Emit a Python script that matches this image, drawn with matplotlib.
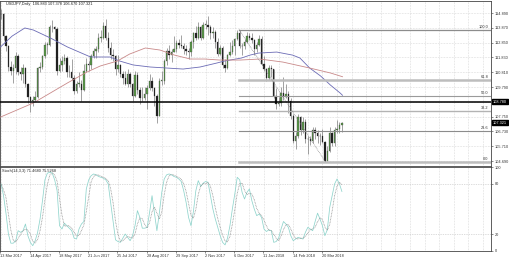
import matplotlib
matplotlib.use("Agg")
import matplotlib.pyplot as plt
import matplotlib.transforms as mtransforms
import numpy as np

plt.rcParams['font.family'] = ['Liberation Sans', 'DejaVu Sans']

# ---------------- data ----------------
chart_title = "USDJPY,Daily  106.883 107.378 106.670 107.321"
stoch_title = "Stoch(14,3,3) 71.4680 75.5268"

first_open = 114.8
closes = [114.8, 113.3, 112.6, 111.2, 110.9, 111.1, 111.9, 110.8, 110.7, 111.1,
          110.0, 109.1, 108.8, 108.9, 109.1, 111.1, 111.2, 111.9, 112.7, 112.7,
          113.9, 113.9, 113.8, 110.9, 111.3, 111.6, 111.8, 110.8, 110.8, 110.4,
          109.5, 110.0, 110.0, 109.6, 110.9, 111.4, 111.3, 111.9, 112.3, 112.4,
          113.2, 113.2, 114.0, 113.2, 112.5, 112.0, 111.9, 111.0, 111.3, 110.7,
          110.4, 110.0, 110.7, 110.0, 109.2, 110.6, 109.6, 109.0, 109.0, 109.3,
          109.7, 110.2, 109.7, 109.2, 107.8, 110.2, 110.2, 111.6, 112.3, 112.0,
          112.2, 112.4, 112.8, 112.7, 112.6, 112.4, 112.3, 112.2, 112.9, 113.5,
          113.2, 113.9, 113.2, 114.1, 114.1, 113.9, 113.5, 113.6, 112.9, 112.1,
          112.5, 111.3, 111.1, 112.0, 112.2, 112.6, 113.1, 113.5, 112.6, 112.6,
          112.9, 113.3, 113.2, 113.0, 112.4, 112.7, 113.1, 111.4, 111.0, 110.4,
          111.1, 111.0, 109.2, 108.6, 108.7, 109.4, 109.1, 109.3, 108.8, 107.8,
          106.1, 106.4, 107.7, 106.8, 107.4, 106.2, 106.2, 106.1, 106.8, 106.6,
          106.4, 106.4, 106.0, 104.7, 105.4, 106.6, 105.9, 106.8, 106.9, 107.2,
          107.32]
highs = [115.2, 114.9, 113.4, 112.7, 111.6, 111.4, 112.2, 112.1, 111.2, 111.4,
         111.2, 110.1, 109.2, 109.2, 109.5, 111.2, 111.5, 112.0, 112.9, 112.9,
         114.1, 114.4, 114.0, 113.9, 111.8, 111.9, 112.1, 111.9, 111.3, 111.7,
         110.6, 110.2, 110.8, 110.3, 111.4, 111.8, 111.6, 112.1, 112.5, 112.6,
         113.5, 113.7, 114.3, 114.5, 113.6, 112.9, 112.4, 112.0, 112.0, 111.4,
         110.9, 110.9, 111.0, 110.8, 110.1, 110.9, 110.8, 109.8, 109.8, 109.8,
         109.9, 110.7, 110.5, 109.8, 109.3, 110.4, 110.9, 111.7, 112.5, 112.7,
         112.4, 113.3, 113.0, 113.1, 113.4, 112.8, 112.7, 112.5, 113.0, 113.6,
         114.0, 114.3, 114.0, 114.3, 114.4, 114.7, 114.1, 113.9, 113.7, 113.2,
         112.7, 112.6, 111.7, 112.1, 112.9, 113.0, 113.2, 113.7, 113.75, 112.8,
         113.1, 113.6, 113.5, 113.5, 113.1, 112.9, 113.4, 113.3, 111.9, 111.1,
         111.3, 111.3, 111.0, 109.7, 109.1, 109.8, 110.5, 110.0, 109.5, 109.0,
         107.9, 106.7, 107.9, 107.8, 107.7, 107.6, 106.4, 106.4, 107.0, 107.0,
         106.8, 106.6, 106.9, 106.1, 105.7, 107.0, 106.7, 107.0, 107.5, 107.4,
         107.38]
lows = [114.5, 113.0, 112.3, 110.9, 110.6, 110.1, 110.7, 110.6, 110.3, 110.1,
        109.8, 108.7, 108.1, 108.5, 108.8, 109.0, 110.8, 111.0, 111.8, 112.1,
        112.6, 113.6, 113.1, 110.6, 110.8, 110.9, 111.4, 110.5, 110.5, 110.3,
        109.3, 109.4, 109.8, 108.8, 109.5, 110.8, 110.9, 111.0, 111.8, 111.8,
        112.2, 112.9, 113.1, 113.0, 112.2, 111.7, 111.6, 110.6, 110.8, 110.5,
        110.0, 109.9, 109.8, 109.8, 108.8, 109.1, 109.3, 108.6, 108.8, 108.9,
        108.3, 109.6, 109.5, 108.5, 107.3, 107.8, 109.9, 110.0, 111.3, 111.7,
        111.5, 112.2, 112.2, 112.5, 112.5, 112.1, 112.0, 111.7, 111.9, 112.5,
        113.0, 113.1, 113.0, 113.1, 113.8, 113.4, 113.1, 113.2, 112.5, 111.9,
        112.0, 111.1, 110.8, 111.0, 111.9, 112.1, 112.0, 113.0, 112.5, 112.0,
        112.4, 112.8, 113.0, 112.8, 112.0, 112.2, 112.6, 111.3, 110.9, 110.2,
        110.3, 110.5, 109.0, 108.3, 108.5, 108.5, 108.9, 109.0, 108.0, 107.6,
        105.9, 105.55, 106.3, 106.5, 106.6, 105.9, 105.2, 105.8, 105.9, 106.2,
        105.9, 105.8, 105.9, 104.6, 104.7, 105.3, 105.7, 105.7, 106.6, 106.6,
        106.67]

stoch_k = [80, 66, 45, 20, 9, 9, 12, 24, 22, 24,
           32, 18, 10, 6, 12, 22, 38, 60, 85, 93,
           94, 93, 85, 72, 30, 26, 33, 30, 27, 24,
           15, 14, 26, 32, 35, 74, 85, 90, 92, 91,
           89, 88, 87, 85, 80, 58, 35, 13, 11, 10,
           15, 20, 16, 12, 18, 30, 48, 40, 27, 27,
           28, 46, 66, 45, 24, 45, 70, 86, 91, 92,
           91, 89, 88, 86, 83, 72, 58, 40, 30, 47,
           72, 84, 77, 81, 83, 82, 66, 50, 38, 28,
           18, 10, 7, 15, 30, 50, 68, 88, 85, 70,
           62, 70, 74, 60, 50, 42, 44, 40, 26, 23,
           25, 24, 10, 11, 15, 26, 35, 32, 28, 18,
           12, 14, 16, 15, 14, 22, 28, 26, 24, 35,
           45, 38, 30, 18, 25, 52, 66, 80, 86, 80,
           71]

ma_blue_days = [0, 9.5, 20, 27, 41, 55, 74, 90, 98, 109, 123, 150, 164, 178, 184,
                198, 205, 212, 227, 240, 246, 254, 263, 271, 279, 281]
ma_blue = [112.55, 113.30, 113.86, 113.72, 113.17, 112.55, 111.86, 111.86, 111.58,
           111.31, 111.17, 111.03, 111.17, 111.45, 111.58, 111.79, 111.99, 112.13,
           112.20, 111.99, 111.79, 111.10, 110.55, 109.93, 109.38, 109.22]
ma_red_days = [0, 27, 55, 71, 82, 96, 106, 119, 131, 143, 156, 168, 180, 197, 213,
               232, 254, 271, 281]
ma_red = [107.72, 108.69, 110.07, 110.82, 111.24, 111.58, 112.06, 112.48, 112.34,
          111.99, 111.72, 111.72, 111.65, 111.65, 111.72, 111.51, 111.10, 110.76,
          110.50]

price_ticks = [114.890, 113.870, 112.850, 111.830, 110.810, 109.790, 108.770,
               107.750, 106.730, 105.710, 104.690]
date_positions = [0, 24, 48, 72, 96, 120, 144, 168, 192, 216, 240, 264]
date_labels = ["13 Mar 2017", "14 Apr 2017", "18 May 2017", "21 Jun 2017",
               "25 Jul 2017", "28 Aug 2017", "29 Sep 2017", "2 Nov 2017",
               "6 Dec 2017", "11 Jan 2018", "14 Feb 2018", "20 Mar 2018"]

fib_high, fib_low = 113.75, 104.63
fib_high_day, fib_low_day = 196, 267
fib_levels = [0.0, 23.6, 38.2, 50.0, 61.8, 100.0]
support_level = 108.78
last_close = 107.321

# ---------------- figure ----------------
W, H = 510, 258
fig = plt.figure(figsize=(W / 100, H / 100), dpi=100)
ax1 = fig.add_axes([0, 92.5 / H, 491 / W, 164.5 / H])
ax2 = fig.add_axes([0, 7.3 / H, 491 / W, 83.4 / H])

xlim = (-0.41, 403)
fs = 2.8
grid_col = '#c9c9c9'

for ax in (ax1, ax2):
    ax.set_xlim(*xlim)
    for s in ax.spines.values():
        s.set_color('#444444')
        s.set_linewidth(0.6)
    for gx in range(0, 404, 12):
        ax.axvline(gx + 0.5, color=grid_col, lw=0.45, ls=(0, (1, 1.5)), zorder=0)

ax1.set_ylim(104.38, 115.72)
for p in price_ticks:
    ax1.axhline(p, color=grid_col, lw=0.45, ls=(0, (1, 1.5)), zorder=0)

# candles
n = len(closes)
xs = np.arange(n) * 2 + 0.5
opens = [first_open] + closes[:-1]
ax1.vlines(xs, lows, highs, color='#7d7d7d', lw=0.5, zorder=2)
for x, o, c in zip(xs, opens, closes):
    bot = min(o, c)
    h = max(abs(c - o), 0.04)
    col = '#5a9a48' if c >= o else '#1c1c1c'
    ax1.bar(x, h, bottom=bot, width=1.15, color=col, edgecolor='#3a3a3a',
            linewidth=0.2, zorder=3)

# moving averages
ax1.plot(ma_blue_days, ma_blue, color='#6b6bb5', lw=0.6, zorder=4)
ax1.plot(ma_red_days, ma_red, color='#c98a8a', lw=0.6, zorder=4)

# support line
ax1.axhline(support_level, color='black', lw=1.1, zorder=5)

# fibonacci
fib_styles = {0.0: ('#bdbdbd', 1.8), 23.6: ('#8c8c8c', 0.8), 38.2: ('#b3b3b3', 1.0),
              50.0: ('#9a9a9a', 0.8), 61.8: ('#bdbdbd', 1.8), 100.0: ('#8c8c8c', 0.9)}
for lvl in fib_levels:
    price = fib_low + (fib_high - fib_low) * lvl / 100.0
    col, lw = fib_styles[lvl]
    ax1.plot([fib_high_day, xlim[1]], [price, price], color=col, lw=lw, zorder=4)
    ax1.text(401, price + 0.06, f"{lvl:.1f}", fontsize=fs, ha='right', va='bottom',
             color='#333333', zorder=6)
ax1.plot([fib_high_day, fib_low_day], [fib_high, fib_low], color='#777777', lw=0.5,
         ls=(0, (1, 1.2)), zorder=4)

# axis labels (right side); the label under the support box is hidden like in the reference
ax1.yaxis.tick_right()
ax1.set_yticks(price_ticks)
ax1.set_yticklabels(["" if abs(p - support_level) < 0.3 else f"{p:.3f}" for p in price_ticks])
ax1.tick_params(axis='y', labelsize=fs, length=1.5, width=0.4, pad=1.5, colors='#333333')
ax1.set_xticks([])

trans = mtransforms.blended_transform_factory(ax1.transAxes, ax1.transData)
for val, txt in [(support_level, f"{support_level:.3f}"), (last_close, f"{last_close:.3f}")]:
    ax1.text(1.004, val, txt, transform=trans, fontsize=fs, color='white',
             va='center', ha='left', clip_on=False,
             bbox=dict(boxstyle='square,pad=0.15', fc='black', ec='black'))

ax1.text(0.013, 0.993, chart_title, transform=ax1.transAxes, fontsize=fs,
         va='top', ha='left', color='#222222')

# stochastic
ax2.set_ylim(0, 100)
sx = np.arange(len(stoch_k)) * 2 + 0.5
sk = np.array(stoch_k, dtype=float)
sig = np.array([sk[max(0, i - 2):i + 1].mean() for i in range(len(sk))])
for lv in (20, 80):
    ax2.axhline(lv, color='#bbbbbb', lw=0.5, ls=(0, (1, 1.5)), zorder=1)
ax2.plot(sx, sk, color='#8fd4cc', lw=0.55, zorder=3)
ax2.plot(sx, sig, color='#8a8a8a', lw=0.55, ls=(0, (1, 1)), zorder=3)
ax2.text(0.004, 0.985, stoch_title, transform=ax2.transAxes, fontsize=fs,
         va='top', ha='left', color='#222222')

ax2.yaxis.tick_right()
ax2.set_yticks([0, 20, 80, 100])
ax2.set_yticklabels(['0', '20', '80', '100'])
ax2.tick_params(axis='y', labelsize=fs, length=1.5, width=0.4, pad=1.5, colors='#333333')
ax2.set_xticks(date_positions)
ax2.set_xticklabels(date_labels, ha='left')
ax2.tick_params(axis='x', labelsize=fs, length=1.5, width=0.4, pad=0.8, colors='#333333')

fig.savefig("out.png", dpi=100, facecolor='white')
